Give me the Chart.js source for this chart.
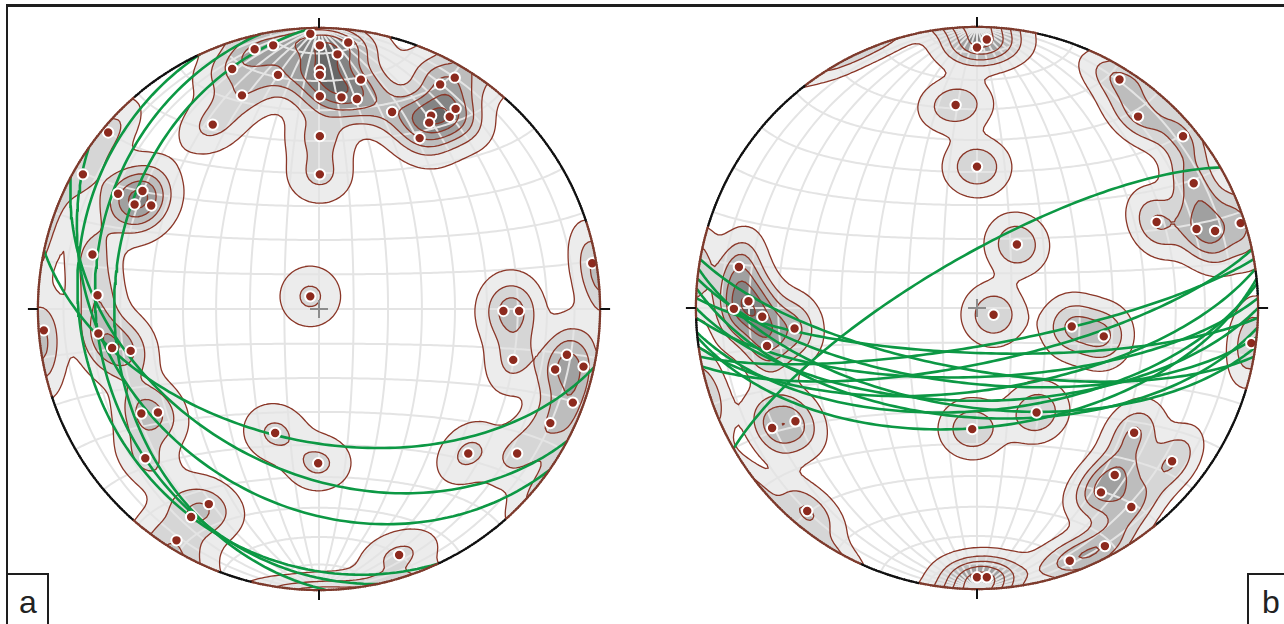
<!DOCTYPE html>
<html>
<head>
<meta charset="utf-8">
<script src="https://cdn.jsdelivr.net/npm/chart.js@4.4.0/dist/chart.umd.min.js"></script>
<style>
  html, body { margin: 0; padding: 0; background: #fff; }
  body { width: 1284px; height: 624px; position: relative; overflow: hidden; font-family: "Liberation Sans", Arial, sans-serif; }
  .frame { position: absolute; left: 6px; top: 4px; width: 1300px; height: 660px; border-left: 2px solid #1e1e1e; border-top: 3px solid #1e1e1e; }
  .net { position: absolute; width: 600px; height: 600px; }
  #netA { left: 19px; top: 9px; }
  #netB { left: 677px; top: 8px; }
  .tag { position: absolute; top: 573px; height: 60px; border: 2px solid #1e1e1e; background: #fff; font-size: 32px; color: #222; }
  #tagA { left: 6px; width: 39px; }
  #tagB { left: 1247px; width: 50px; }
  .tag span { position: absolute; top: 9px; }
  #tagA span { left: 11px; }
  #tagB span { left: 13px; }
</style>
</head>
<body>
<div class="frame"></div>
<div class="net" id="netA"><canvas id="chartA"></canvas></div>
<div class="net" id="netB"><canvas id="chartB"></canvas></div>
<div class="tag" id="tagA"><span>a</span></div>
<div class="tag" id="tagB"><span>b</span></div>
<script>
const POLES_A = [
  [-0.031, 0.979], [0.003, 0.938], [0.104, 0.948], [0.066, 0.906], [0.003, 0.851],
  [0.003, 0.833], [0.149, 0.816], [0.003, 0.757], [0.080, 0.753], [0.135, 0.747],
  [-0.229, 0.924], [-0.163, 0.938], [-0.309, 0.854], [-0.146, 0.833], [-0.274, 0.760],
  [-0.378, 0.656], [0.003, 0.615], [0.003, 0.479], [0.260, 0.701], [0.358, 0.608],
  [0.431, 0.799], [0.483, 0.823], [0.399, 0.688], [0.392, 0.663], [0.465, 0.684],
  [0.486, 0.712], [-0.750, 0.628], [-0.840, 0.479], [-0.715, 0.410], [-0.628, 0.420],
  [-0.656, 0.372], [-0.597, 0.368], [-0.806, 0.194], [-0.788, 0.049], [-0.979, -0.076],
  [-0.785, -0.087], [-0.736, -0.139], [-0.670, -0.149], [-0.632, -0.372], [-0.573, -0.368],
  [-0.618, -0.531], [-0.392, -0.694], [-0.455, -0.740], [-0.507, -0.823], [0.972, 0.163],
  [0.656, -0.007], [0.712, -0.007], [0.691, -0.181], [0.882, -0.163], [0.840, -0.215],
  [0.941, -0.205], [0.903, -0.333], [0.823, -0.406], [0.531, -0.514], [0.705, -0.514],
  [-0.031, 0.045], [-0.156, -0.441], [-0.003, -0.549], [0.285, -0.875]
];
const POLES_B = [
  [0.035, 0.955], [0.000, 0.927], [-0.076, 0.722], [0.000, 0.503], [0.507, 0.813],
  [0.573, 0.681], [0.733, 0.611], [0.771, 0.444], [0.639, 0.306], [0.781, 0.281],
  [0.847, 0.274], [0.938, 0.302], [0.142, 0.226], [0.059, -0.024], [0.337, -0.066],
  [0.451, -0.101], [0.976, -0.125], [0.212, -0.372], [-0.017, -0.431], [0.559, -0.444],
  [0.694, -0.545], [0.490, -0.594], [0.441, -0.656], [0.549, -0.708], [0.455, -0.847],
  [0.330, -0.899], [0.000, -0.958], [0.035, -0.958], [-0.847, 0.146], [-0.813, 0.024],
  [-0.865, -0.003], [-0.764, -0.031], [-0.649, -0.073], [-0.747, -0.135], [-0.729, -0.427],
  [-0.646, -0.403], [-0.604, -0.722]
];

// planes (great circles): dip direction and dip, degrees
const DIPDIR_A = [192, 208, 215, 268.6, 245, 258];
const DIP_A    = [51, 42, 32, 28, 17, 22];
const DIPDIR_B = [330, 168, 172, 175, 178, 180, 182, 184, 186, 188, 190, 174, 170];
const DIP_B    = [75, 74, 66, 60, 70, 63, 77, 58, 68, 61, 72, 55, 79];

// contour levels of the kernel density
const LEVELS_A = [0.25, 0.85, 1.45, 2.05, 2.65, 3.25];
const LEVELS_B = [0.2, 0.6, 1.0, 1.45, 1.9, 2.35];

const KAPPA = 120;
const FILLS = ['#ececec', '#d6d6d6', '#bdbdbd', '#a0a0a0', '#848484', '#676767'];
const D2R = Math.PI / 180;

// lower hemisphere equal-area (Schmidt) projection
function project(v) {
  const th = Math.acos(Math.max(-1, Math.min(1, -v[2])));
  const r = Math.SQRT2 * Math.sin(th / 2);
  const h = Math.hypot(v[0], v[1]);
  if (h < 1e-9) return { x: 0, y: 0 };
  return { x: r * v[0] / h, y: r * v[1] / h };
}
function unproject(x, y) {
  let r = Math.hypot(x, y);
  if (r > 1) { x /= r; y /= r; r = 1; }
  if (r < 1e-9) return [0, 0, -1];
  const th = 2 * Math.asin(r / Math.SQRT2);
  const s = Math.sin(th);
  return [s * x / r, s * y / r, -Math.cos(th)];
}
function greatCircle(dipdir, dip) {
  const a = dipdir * D2R, d = dip * D2R;
  const s = [Math.sin(a - Math.PI / 2), Math.cos(a - Math.PI / 2), 0];
  const dv = [Math.sin(a) * Math.cos(d), Math.cos(a) * Math.cos(d), -Math.sin(d)];
  const pts = [];
  for (let t = 0; t <= 180; t += 1.5) {
    const c = Math.cos(t * D2R), sn = Math.sin(t * D2R);
    pts.push(project([c * s[0] + sn * dv[0], c * s[1] + sn * dv[1], sn * dv[2]]));
  }
  return pts;
}

const GN = 170, GMIN = -1.03, GSPAN = 2.06;
function densityGrid(poles) {
  const vs = poles.map(p => unproject(p[0], p[1]));
  const g = new Float32Array((GN + 1) * (GN + 1));
  for (let j = 0; j <= GN; j++) {
    for (let i = 0; i <= GN; i++) {
      const u = unproject(GMIN + GSPAN * i / GN, GMIN + GSPAN * j / GN);
      let s = 0;
      for (const v of vs) {
        const c = Math.abs(u[0] * v[0] + u[1] * v[1] + u[2] * v[2]);
        s += Math.exp(KAPPA * (c - 1));
      }
      g[j * (GN + 1) + i] = s;
    }
  }
  return g;
}
function sample(g, x, y) {
  const fi = (x - GMIN) / GSPAN * GN, fj = (y - GMIN) / GSPAN * GN;
  const i = Math.max(0, Math.min(GN - 1, Math.floor(fi)));
  const j = Math.max(0, Math.min(GN - 1, Math.floor(fj)));
  const tx = fi - i, ty = fj - j, W = GN + 1;
  const a = g[j * W + i], b = g[j * W + i + 1], c = g[(j + 1) * W + i + 1], d = g[(j + 1) * W + i];
  return (a * (1 - tx) + b * tx) * (1 - ty) + (d * (1 - tx) + c * tx) * ty;
}

const stereoPlugin = {
  id: 'stereo',
  beforeDatasetsDraw(chart) {
    const ctx = chart.ctx;
    const xs = chart.scales.x, ys = chart.scales.y;
    const cx = xs.getPixelForValue(0), cy = ys.getPixelForValue(0);
    const R = xs.getPixelForValue(1) - cx;
    const cfg = chart.$stereo;
    if (!cfg.grid) cfg.grid = densityGrid(cfg.poles);
    const g = cfg.grid, lv = cfg.levels;
    const toPx = (x, y) => [cx + R * x, cy - R * y];

    // filled bands
    const off = document.createElement('canvas');
    off.width = chart.width; off.height = chart.height;
    const octx = off.getContext('2d');
    const img = octx.createImageData(off.width, off.height);
    const rgb = FILLS.map(c => [parseInt(c.slice(1, 3), 16), parseInt(c.slice(3, 5), 16), parseInt(c.slice(5, 7), 16)]);
    for (let py = 0; py < off.height; py++) {
      for (let px = 0; px < off.width; px++) {
        const x = (px + 0.5 - cx) / R, y = (cy - py - 0.5) / R;
        if (x * x + y * y > 1.0) continue;
        const d = sample(g, x, y);
        let k = -1;
        for (let l = 0; l < lv.length; l++) if (d >= lv[l]) k = l;
        if (k < 0) continue;
        const o = (py * off.width + px) * 4;
        img.data[o] = rgb[k][0]; img.data[o + 1] = rgb[k][1]; img.data[o + 2] = rgb[k][2]; img.data[o + 3] = 255;
      }
    }
    octx.putImageData(img, 0, 0);
    ctx.save();
    ctx.drawImage(off, 0, 0);

    ctx.beginPath();
    ctx.arc(cx, cy, R, 0, Math.PI * 2);
    ctx.clip();

    // Schmidt net grid, 10 degree spacing
    ctx.strokeStyle = '#e4e4e4';
    ctx.lineWidth = 2;
    for (let lam = -80; lam <= 80; lam += 10) {
      ctx.beginPath();
      for (let phi = -90; phi <= 90; phi += 1) {
        const p = project([Math.cos(phi * D2R) * Math.sin(lam * D2R), Math.sin(phi * D2R), -Math.cos(phi * D2R) * Math.cos(lam * D2R)]);
        const [X, Y] = toPx(p.x, p.y);
        phi === -90 ? ctx.moveTo(X, Y) : ctx.lineTo(X, Y);
      }
      ctx.stroke();
    }
    for (let phi = -80; phi <= 80; phi += 10) {
      ctx.beginPath();
      for (let lam = -90; lam <= 90; lam += 1) {
        const p = project([Math.cos(phi * D2R) * Math.sin(lam * D2R), Math.sin(phi * D2R), -Math.cos(phi * D2R) * Math.cos(lam * D2R)]);
        const [X, Y] = toPx(p.x, p.y);
        lam === -90 ? ctx.moveTo(X, Y) : ctx.lineTo(X, Y);
      }
      ctx.stroke();
    }

    // contour lines, marching squares
    ctx.strokeStyle = '#8a3627';
    ctx.lineWidth = 1.3;
    ctx.lineCap = 'round';
    const W = GN + 1;
    const nx = i => GMIN + GSPAN * i / GN;
    for (const t of lv) {
      ctx.beginPath();
      for (let j = 0; j < GN; j++) {
        for (let i = 0; i < GN; i++) {
          const v = [g[j * W + i], g[j * W + i + 1], g[(j + 1) * W + i + 1], g[(j + 1) * W + i]];
          const c = [[nx(i), nx(j)], [nx(i + 1), nx(j)], [nx(i + 1), nx(j + 1)], [nx(i), nx(j + 1)]];
          const pts = [];
          for (let e = 0; e < 4; e++) {
            const a = v[e], b = v[(e + 1) % 4];
            if ((a >= t) !== (b >= t)) {
              const f = (t - a) / (b - a);
              const p0 = c[e], p1 = c[(e + 1) % 4];
              pts.push(toPx(p0[0] + f * (p1[0] - p0[0]), p0[1] + f * (p1[1] - p0[1])));
            }
          }
          if (pts.length === 2) {
            ctx.moveTo(pts[0][0], pts[0][1]); ctx.lineTo(pts[1][0], pts[1][1]);
          } else if (pts.length === 4) {
            const mid = (v[0] + v[1] + v[2] + v[3]) / 4;
            const pairs = (mid >= t) === (v[0] >= t) ? [[0, 3], [1, 2]] : [[0, 1], [2, 3]];
            for (const [p, q] of pairs) { ctx.moveTo(pts[p][0], pts[p][1]); ctx.lineTo(pts[q][0], pts[q][1]); }
          }
        }
      }
      ctx.stroke();
    }
    ctx.restore();
  },
  afterDatasetsDraw(chart) {
    const ctx = chart.ctx;
    const xs = chart.scales.x, ys = chart.scales.y;
    const cx = xs.getPixelForValue(0), cy = ys.getPixelForValue(0);
    const R = xs.getPixelForValue(1) - cx;
    const cfg = chart.$stereo;
    ctx.save();
    // primitive circle: black, brown where a contour reaches it
    ctx.lineWidth = 2.2;
    const step = 0.5;
    for (let a = 0; a < 360; a += step) {
      const x = Math.sin(a * D2R), y = Math.cos(a * D2R);
      const inside = sample(cfg.grid, x * 0.995, y * 0.995) >= cfg.levels[0];
      ctx.strokeStyle = inside ? '#7d3a2c' : '#111';
      ctx.beginPath();
      ctx.arc(cx, cy, R, (a - 90) * D2R - 0.002, (a + step - 90) * D2R + 0.002);
      ctx.stroke();
    }
    // ticks at N, E, S, W
    ctx.strokeStyle = '#111';
    ctx.lineWidth = 2;
    ctx.beginPath();
    ctx.moveTo(cx, cy - R); ctx.lineTo(cx, cy - R - 10);
    ctx.moveTo(cx, cy + R); ctx.lineTo(cx, cy + R + 10);
    ctx.moveTo(cx - R, cy); ctx.lineTo(cx - R - 10, cy);
    ctx.moveTo(cx + R, cy); ctx.lineTo(cx + R + 10, cy);
    ctx.stroke();
    // centre cross
    ctx.strokeStyle = '#8c8c8c';
    ctx.beginPath();
    ctx.moveTo(cx - 9, cy); ctx.lineTo(cx + 9, cy);
    ctx.moveTo(cx, cy - 9); ctx.lineTo(cx, cy + 9);
    ctx.stroke();
    ctx.restore();
  }
};

function makeNet(canvasId, poles, dipdirs, dips, levels) {
  const lim = 300 / 288;
  const datasets = [{
    type: 'scatter',
    data: poles.map(p => ({ x: p[0], y: p[1] })),
    pointRadius: 5.2,
    pointHoverRadius: 5.2,
    pointBackgroundColor: '#8c2a1e',
    pointBorderColor: '#ffffff',
    pointBorderWidth: 2
  }];
  dipdirs.forEach((dd, i) => {
    datasets.push({
      type: 'line',
      data: greatCircle(dd, dips[i]),
      showLine: true,
      borderColor: '#0c9844',
      borderWidth: 2.6,
      pointRadius: 0,
      fill: false,
      tension: 0
    });
  });
  return new Chart(document.getElementById(canvasId), {
    type: 'scatter',
    data: { datasets },
    options: {
      responsive: true,
      maintainAspectRatio: false,
      animation: false,
      layout: { padding: 0 },
      scales: {
        x: { type: 'linear', min: -lim, max: lim, display: false },
        y: { type: 'linear', min: -lim, max: lim, display: false }
      },
      plugins: { legend: { display: false }, tooltip: { enabled: false } },
      events: []
    },
    plugins: [{ id: 'cfg', beforeInit(c) { c.$stereo = { poles, levels }; } }, stereoPlugin]
  });
}

makeNet('chartA', POLES_A, DIPDIR_A, DIP_A, LEVELS_A);
makeNet('chartB', POLES_B, DIPDIR_B, DIP_B, LEVELS_B);
</script>
</body>
</html>
